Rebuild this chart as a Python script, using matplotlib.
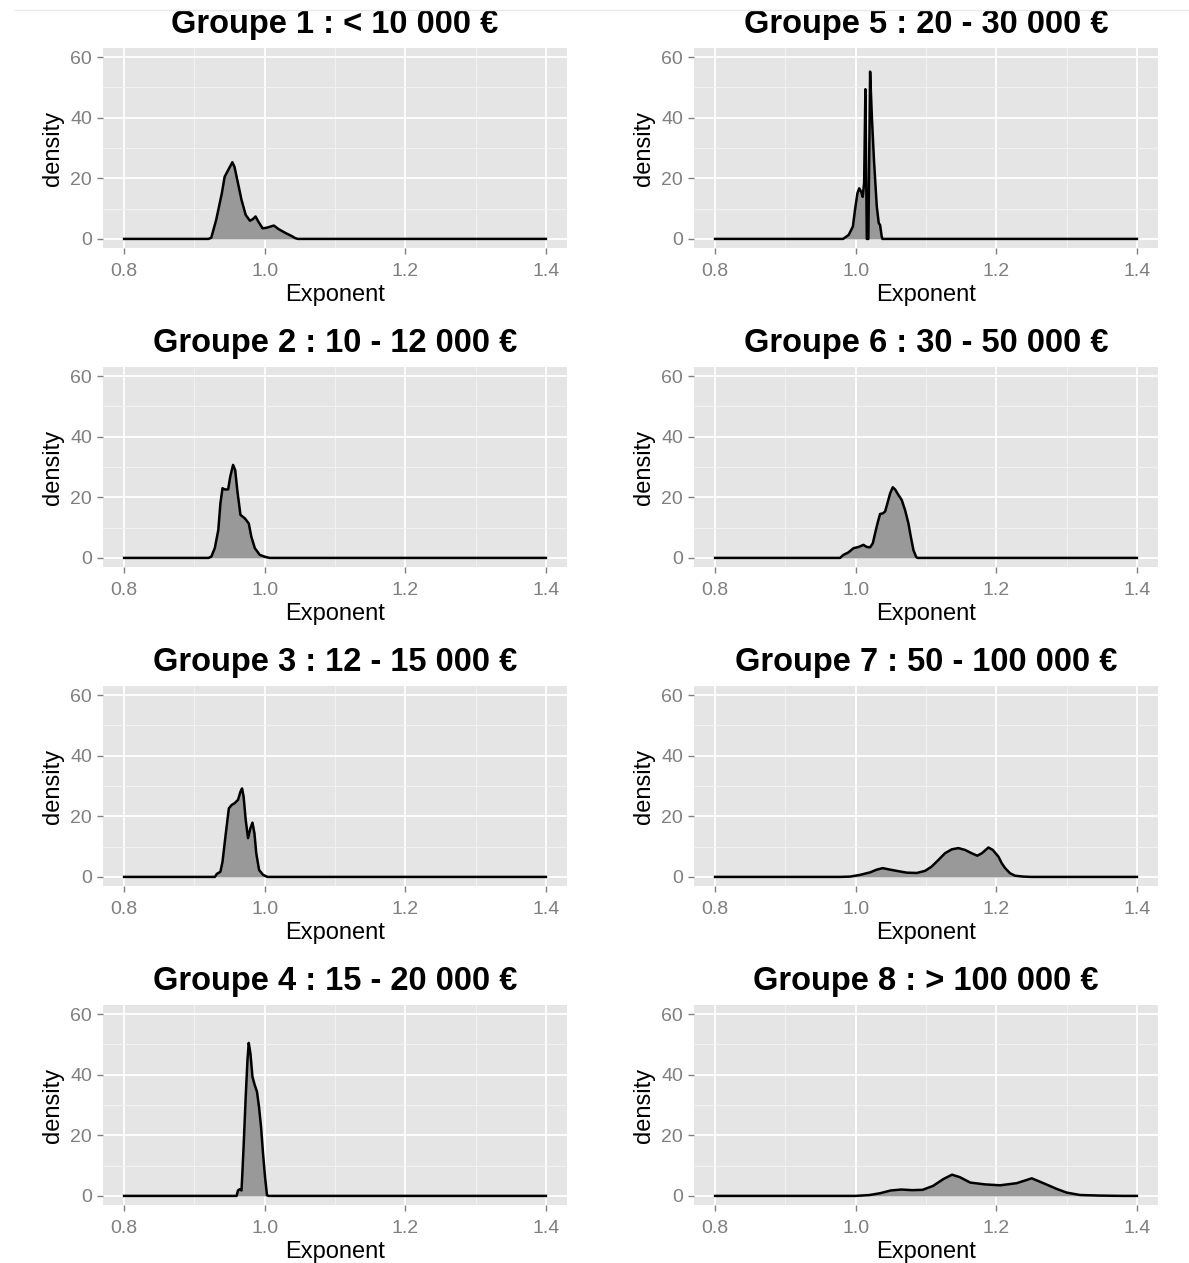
import matplotlib
matplotlib.use("Agg")
import matplotlib.pyplot as plt
from matplotlib.ticker import FixedLocator
from matplotlib.lines import Line2D

plt.rcParams['font.family'] = ['Liberation Sans', 'DejaVu Sans']

titles = [
    "Groupe 1 : < 10 000 €",
    "Groupe 2 : 10 - 12 000 €",
    "Groupe 3 : 12 - 15 000 €",
    "Groupe 4 : 15 - 20 000 €",
    "Groupe 5 : 20 - 30 000 €",
    "Groupe 6 : 30 - 50 000 €",
    "Groupe 7 : 50 - 100 000 €",
    "Groupe 8 : > 100 000 €",
]

g1_x = [0.8, 0.92, 0.924, 0.931, 0.939, 0.943, 0.948, 0.954, 0.957, 0.962, 0.967, 0.973, 0.979,
        0.983, 0.987, 0.991, 0.997, 1.003, 1.013, 1.020, 1.030, 1.038, 1.043, 1.047, 1.4]
g1_y = [0, 0, 0.4, 6.3, 15, 20.5, 22.7, 25.3, 23.8, 18.4, 12.9, 7.9, 6.0,
        6.5, 7.4, 5.7, 3.5, 3.7, 4.4, 3.2, 1.9, 1.0, 0.3, 0, 0]

g2_x = [0.8, 0.92, 0.924, 0.929, 0.934, 0.937, 0.940, 0.943, 0.948, 0.951, 0.955, 0.958, 0.961,
        0.9655, 0.9716, 0.9773, 0.981, 0.986, 0.993, 1.000, 1.007, 1.4]
g2_y = [0, 0, 0.4, 3.2, 9.2, 18, 23, 22.6, 22.6, 26.8, 30.7, 29, 22.4,
        14.2, 13.1, 11.4, 7, 3.2, 1, 0.4, 0, 0]

g3_x = [0.8, 0.929, 0.932, 0.937, 0.940, 0.9447, 0.949, 0.9528, 0.957, 0.962, 0.9655, 0.9678,
        0.970, 0.973, 0.9763, 0.9797, 0.9826, 0.9854, 0.988, 0.992, 0.9976, 1.004, 1.4]
g3_y = [0, 0, 1, 1.7, 5, 14.4, 22.6, 23.7, 24.3, 25.4, 28.1, 29.2,
        26.5, 18.8, 12.8, 16.1, 17.9, 14.4, 7.8, 2.3, 0.7, 0, 0]

g4_x = [0.8, 0.960, 0.962, 0.9645, 0.967, 0.968, 0.970, 0.973, 0.9755, 0.9773, 0.9797, 0.9826,
        0.9858, 0.989, 0.9919, 0.9948, 0.9976, 1.0004, 1.0033, 1.006, 1.4]
g4_y = [0, 0, 1.8, 2.2, 1.8, 6.4, 16.3, 32.8, 44.8, 50.5, 47, 39.3,
        36.6, 34.4, 29.4, 22.8, 14.1, 6.4, 0.2, 0, 0]

g5_x = [0.8, 0.982, 0.990, 0.996, 0.999, 1.0025, 1.005, 1.0077, 1.010, 1.012, 1.0138, 1.0158,
        1.018, 1.0205, 1.023, 1.026, 1.030, 1.0328, 1.0347, 1.037, 1.038, 1.4]
g5_y = [0, 0, 1.3, 4.1, 9.6, 15.1, 16.7, 15.6, 13.9, 18.4, 49.4, 0,
        0, 55.2, 40.3, 26, 10.7, 5.2, 4.6, 0.8, 0, 0]

g6_x = [0.8, 0.9778, 0.9825, 0.9896, 0.9968, 1.0039, 1.011, 1.0158, 1.0205, 1.0243, 1.0276,
        1.031, 1.0347, 1.0385, 1.0418, 1.0451, 1.049, 1.0527, 1.056, 1.0599, 1.0655, 1.0702,
        1.075, 1.0784, 1.0821, 1.086, 1.088, 1.4]
g6_y = [0, 0, 1.0, 1.8, 3.2, 3.6, 4.3, 3.6, 3.5, 4.8, 8.1,
        11.4, 14.5, 14.7, 15.3, 18, 21.3, 23.3, 22.6, 21.1, 19.1, 15.8,
        11.4, 7.0, 2.6, 0.3, 0, 0]

g7_x = [0.8, 0.978, 0.992, 1.006, 1.0205, 1.030, 1.0385, 1.0466, 1.058, 1.0727, 1.087, 1.0987,
        1.108, 1.1177, 1.127, 1.1367, 1.146, 1.1556, 1.165, 1.173, 1.1794, 1.1888, 1.195,
        1.1983, 1.203, 1.2078, 1.2125, 1.2196, 1.2267, 1.2386, 1.25, 1.4]
g7_y = [0, 0, 0.1, 0.66, 1.5, 2.4, 2.9, 2.5, 2.0, 1.4, 1.3, 2.0,
        3.4, 5.6, 7.8, 9.1, 9.5, 8.9, 7.8, 7.0, 7.8, 9.7, 8.9,
        8.0, 6.7, 4.5, 2.9, 1.2, 0.4, 0.1, 0, 0]

g8_x = [0.8, 1.0, 1.02, 1.035, 1.05, 1.065, 1.08, 1.095, 1.11, 1.125, 1.137, 1.148, 1.163,
        1.184, 1.2054, 1.229, 1.2505, 1.267, 1.286, 1.30, 1.319, 1.348, 1.38, 1.4]
g8_y = [0, 0, 0.3, 0.9, 1.8, 2.1, 1.9, 2.0, 3.3, 5.6, 7.0, 6.2, 4.4,
        3.8, 3.5, 4.2, 5.8, 4.2, 2.3, 1.1, 0.3, 0.1, 0, 0]

xs = [g1_x, g2_x, g3_x, g4_x, g5_x, g6_x, g7_x, g8_x]
ys = [g1_y, g2_y, g3_y, g4_y, g5_y, g6_y, g7_y, g8_y]

x_ticks = [0.8, 1.0, 1.2, 1.4]
x_ticklabels = ["0.8", "1.0", "1.2", "1.4"]
y_ticks = [0, 20, 40, 60]
y_ticklabels = ["0", "20", "40", "60"]

W, H = 1189, 1263
fig = plt.figure(figsize=(W / 100, H / 100), dpi=100)

# faint line at the very top
fig.add_artist(Line2D([15 / W, 1.0], [1 - 10 / H, 1 - 10 / H], color='#E8E8E8', lw=1))

col_left = [103, 694]
row_top = [48, 367, 686, 1005]
aw, ah = 464, 200

for i in range(8):
    col = i // 4
    row = i % 4
    left = col_left[col] / W
    bottom = 1 - (row_top[row] + ah) / H
    ax = fig.add_axes([left, bottom, aw / W, ah / H])
    ax.set_facecolor('#E5E5E5')
    for s in ax.spines.values():
        s.set_visible(False)
    ax.set_xlim(0.77, 1.43)
    ax.set_ylim(-3, 63)
    ax.xaxis.set_major_locator(FixedLocator(x_ticks))
    ax.set_xticklabels(x_ticklabels)
    ax.xaxis.set_minor_locator(FixedLocator([0.9, 1.1, 1.3]))
    ax.yaxis.set_major_locator(FixedLocator(y_ticks))
    ax.set_yticklabels(y_ticklabels)
    ax.yaxis.set_minor_locator(FixedLocator([10, 30, 50]))
    ax.grid(which='major', color='white', lw=1.3)
    ax.grid(which='minor', color='#F2F2F2', lw=0.7)
    ax.set_axisbelow(True)
    ax.tick_params(which='major', length=4, width=1, color='#7F7F7F',
                   labelcolor='#7F7F7F', labelsize=14)
    ax.tick_params(axis='x', which='major', pad=6.5)
    ax.tick_params(axis='y', which='major', pad=4)
    ax.tick_params(which='minor', length=0)

    ax.fill_between(xs[i], ys[i], 0, color='#999999', lw=0, zorder=2)
    ax.plot(xs[i], ys[i], color='black', lw=1.8, zorder=3, solid_joinstyle='round')

    ax.set_title(titles[i], fontsize=23.5, fontweight='bold', pad=11)
    ax.set_xlabel("Exponent", fontsize=17, labelpad=3)
    ax.set_ylabel("density", fontsize=17, labelpad=4)

fig.savefig("out.png", dpi=100)
